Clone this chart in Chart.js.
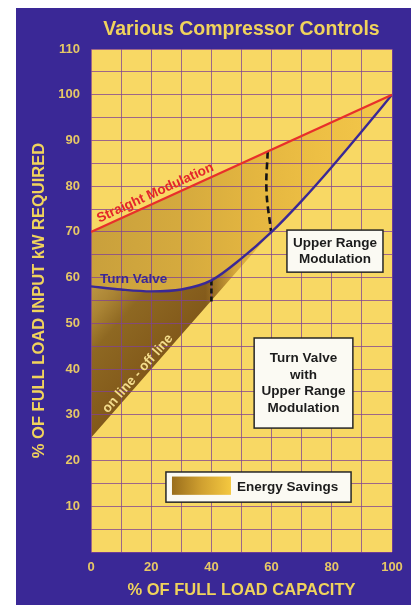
<!DOCTYPE html>
<html><head><meta charset="utf-8">
<script src="https://cdn.jsdelivr.net/npm/chart.js@4/dist/chart.umd.min.js"></script>
<style>
html,body{margin:0;padding:0;background:#fff;}
#wrap{position:absolute;left:16px;top:8px;width:395px;height:597px;background:#3a2896;}
canvas{display:block;}
</style></head><body>
<div id="wrap"><canvas id="c" width="395" height="597"></canvas></div>
<script>
// ---- data ----
const capacity = [0,10,20,30,40,50,60,70,80,90,100];
const turnValve = [58.1,57.4,57.0,57.4,59.4,64.2,70.0,76.8,84.2,92.0,100];
const straightModX = [0,100];
const straightModY = [70,100];
const onOffX = [0,100];
const onOffY = [25,100];
const switchLowX = [40,40];
const switchLowY = [59.4,54.6];
const switchHighX = [58.7,58.3,59.8];
const switchHighY = [87.6,79.0,70.2];
const xTickLabels = [0,20,40,60,80,100];
const yTickLabels = [10,20,30,40,50,60,70,80,90,100,110];

const FONT = "'Liberation Sans', Arial, Helvetica, sans-serif";
const YELLOW_TXT = '#f0d35c';
const zip = (xs, ys) => xs.map((v,i)=>({x:v, y:ys[i]}));

let tex = {key:null};
function textures(chart){
  const a = chart.chartArea;
  if (!a || !chart.scales.x || !chart.scales.y) return null;
  const key = [a.left,a.top,a.right,a.bottom].join(',');
  if (tex.key === key) return tex;
  const xs = chart.scales.x, ys = chart.scales.y, ctx = chart.ctx;
  const g = ctx.createLinearGradient(a.left,0,a.right,0);
  g.addColorStop(0,'#c9a03c'); g.addColorStop(0.3,'#d5aa3e'); g.addColorStop(0.55,'#e4b640');
  g.addColorStop(0.75,'#edbf44'); g.addColorStop(1,'#f3c74a');
  const off = document.createElement('canvas');
  off.width = chart.width; off.height = chart.height;
  const o = off.getContext('2d');
  const p0x = xs.getPixelForValue(onOffX[0]), p0y = ys.getPixelForValue(onOffY[0]);
  const p1x = xs.getPixelForValue(onOffX[1]), p1y = ys.getPixelForValue(onOffY[1]);
  let dx = p1x-p0x, dy = p1y-p0y; const L = Math.hypot(dx,dy); dx/=L; dy/=L;
  const nx = dy, ny = -dx, D = 100;
  const pg = o.createLinearGradient(p0x,p0y,p0x+nx*D,p0y+ny*D);
  pg.addColorStop(0,'#82591a'); pg.addColorStop(0.55,'#8e6822'); pg.addColorStop(0.78,'#aa8434'); pg.addColorStop(1,'#bc9642');
  o.fillStyle = pg; o.fillRect(0,0,off.width,off.height);
  const hg = o.createLinearGradient(xs.getPixelForValue(38),0,xs.getPixelForValue(62),0);
  hg.addColorStop(0,'rgba(240,192,70,0)'); hg.addColorStop(0.4,'rgba(240,192,70,0.75)'); hg.addColorStop(1,'rgba(242,198,76,1)');
  o.fillStyle = hg; o.fillRect(0,0,off.width,off.height);
  tex = {key, top:g, low: ctx.createPattern(off,'no-repeat')};
  return tex;
}

const plotBg = {
  id:'plotBg',
  beforeDraw(chart){
    const a = chart.chartArea, ctx = chart.ctx;
    ctx.save(); ctx.fillStyle = '#f8d864';
    ctx.fillRect(a.left, a.top, a.right-a.left, a.bottom-a.top); ctx.restore();
  }
};
try {
  const filler = Chart.registry.getPlugin('filler');
  Chart.unregister(filler);
  Chart.register(plotBg, filler);
} catch(e) { Chart.register(plotBg); }

function drawBox(ctx, X, Y, x0, y0, x1, y1, lines){
  const l = X(x0), t = Y(y0), r = X(x1), b = Y(y1);
  ctx.fillStyle = '#fbfaf3'; ctx.fillRect(l,t,r-l,b-t);
  ctx.strokeStyle = '#262626'; ctx.lineWidth = 1.5; ctx.strokeRect(l,t,r-l,b-t);
  ctx.fillStyle = '#1c1c1c'; ctx.font = 'bold 13.5px ' + FONT;
  ctx.textAlign = 'center'; ctx.textBaseline = 'middle';
  const lh = 16.5, cy = (t+b)/2, cx = (l+r)/2;
  lines.forEach((s,i)=> ctx.fillText(s, cx, cy + (i-(lines.length-1)/2)*lh));
}

const annot = {
  id:'annot',
  afterDraw(chart){
    const ctx = chart.ctx, xs = chart.scales.x, ys = chart.scales.y;
    const X = v=>xs.getPixelForValue(v), Y = v=>ys.getPixelForValue(v);
    ctx.save();
    // Straight Modulation label along red line
    let ang = Math.atan2(Y(straightModY[1])-Y(straightModY[0]), X(straightModX[1])-X(straightModX[0]));
    let ax = 22.6, ay = straightModY[0] + (straightModY[1]-straightModY[0])*ax/100;
    ctx.save(); ctx.translate(X(ax), Y(ay)); ctx.rotate(ang);
    ctx.font = 'bold 13.5px ' + FONT; ctx.fillStyle = '#e3262a';
    ctx.textAlign = 'center'; ctx.textBaseline = 'alphabetic';
    ctx.fillText('Straight Modulation', 0, -5); ctx.restore();
    // Turn Valve
    ctx.font = 'bold 13.5px ' + FONT; ctx.fillStyle = '#3a2896';
    ctx.textAlign = 'left'; ctx.textBaseline = 'middle';
    ctx.fillText('Turn Valve', X(3), Y(59.7));
    // on line - off line
    ang = Math.atan2(Y(onOffY[1])-Y(onOffY[0]), X(onOffX[1])-X(onOffX[0]));
    ax = 17.3; ay = onOffY[0] + (onOffY[1]-onOffY[0])*ax/100;
    ctx.save(); ctx.translate(X(ax), Y(ay)); ctx.rotate(ang);
    ctx.font = 'bold 13.5px ' + FONT; ctx.fillStyle = '#f3dc8c';
    ctx.textAlign = 'center'; ctx.textBaseline = 'middle';
    ctx.fillText('on line - off line', 0, -7); ctx.restore();
    // boxes
    drawBox(ctx, X, Y, 65.1, 70.4, 97.0, 61.2, ['Upper Range','Modulation']);
    drawBox(ctx, X, Y, 54.2, 46.8, 87.0, 27.1, ['Turn Valve','with','Upper Range','Modulation']);
    // legend box
    const l = X(24.9), t = Y(17.5), r = X(86.4), b = Y(10.9);
    ctx.fillStyle = '#fbfaf3'; ctx.fillRect(l,t,r-l,b-t);
    ctx.strokeStyle = '#262626'; ctx.lineWidth = 1.5; ctx.strokeRect(l,t,r-l,b-t);
    const sl = X(26.9), sr = X(46.5), st = Y(16.5), sb = Y(12.5);
    const sg = ctx.createLinearGradient(sl,0,sr,0);
    sg.addColorStop(0,'#9a6e1c'); sg.addColorStop(0.5,'#d0a030'); sg.addColorStop(1,'#f4c840');
    ctx.fillStyle = sg; ctx.fillRect(sl,st,sr-sl,sb-st);
    ctx.fillStyle = '#1c1c1c'; ctx.font = 'bold 13.5px ' + FONT;
    ctx.textAlign = 'left'; ctx.textBaseline = 'middle';
    ctx.fillText('Energy Savings', X(48.5), (t+b)/2);
    ctx.restore();
  }
};

const gridColor = 'rgba(128,66,148,0.75)';
new Chart(document.getElementById('c'), {
  type: 'line',
  data: {
    datasets: [
      { label:'Straight Modulation', data: zip(straightModX, straightModY),
        borderColor:'#e8302a', borderWidth:2.2, pointRadius:0, tension:0,
        fill: 1, backgroundColor: c => { const t = textures(c.chart); return t ? t.top : '#e0b040'; } },
      { label:'Turn Valve', data: zip(capacity, turnValve),
        borderColor:'#3a2896', borderWidth:2.4, pointRadius:0, cubicInterpolationMode:'monotone',
        fill: 2, backgroundColor: c => { const t = textures(c.chart); return t ? t.low : '#a88030'; } },
      { label:'on line - off line', data: zip(onOffX, onOffY),
        borderWidth:0, borderColor:'rgba(0,0,0,0)', pointRadius:0, fill:false },
      { label:'switch low', data: zip(switchLowX, switchLowY),
        borderColor:'#141414', borderWidth:2.6, borderDash:[5,3], pointRadius:0, fill:false },
      { label:'switch high', data: zip(switchHighX, switchHighY),
        borderColor:'#141414', borderWidth:2.6, borderDash:[7,4], pointRadius:0, tension:0.4, fill:false }
    ]
  },
  options: {
    responsive:false, animation:false, events:[],
    layout:{ padding:{left:0, top:0, right:19, bottom:0} },
    plugins:{
      legend:{display:false}, tooltip:{enabled:false},
      filler:{drawTime:'beforeDraw'},
      title:{display:true, fullSize:false, text:'Various Compressor Controls', color:YELLOW_TXT,
        font:{family:FONT, size:19.5, weight:'bold'}, padding:{top:10, bottom:7.6}}
    },
    scales:{
      x:{ type:'linear', min:0, max:100,
        ticks:{stepSize:10, autoSkip:false, maxRotation:0, padding:8, color:'#e6c866',
          font:{family:FONT, size:13, weight:'bold'},
          callback: v => xTickLabels.includes(v) ? String(v) : ''},
        grid:{color:gridColor, lineWidth:1, drawTicks:false}, border:{display:false},
        title:{display:true, text:'% OF FULL LOAD CAPACITY', color:YELLOW_TXT,
          font:{family:FONT, size:16.5, weight:'bold'}, padding:{top:0, bottom:5}},
        afterFit: s => { s.height = 53; } },
      y:{ type:'linear', min:0, max:110,
        ticks:{stepSize:5, autoSkip:false, padding:11, color:'#e6c866',
          font:{family:FONT, size:13, weight:'bold'},
          callback: v => yTickLabels.includes(v) ? String(v) : ''},
        grid:{color:gridColor, lineWidth:1, drawTicks:false}, border:{display:false},
        title:{display:true, text:'% OF FULL LOAD INPUT kW REQUIRED', color:YELLOW_TXT,
          font:{family:FONT, size:16.5, weight:'bold'}, padding:{top:14, bottom:0}},
        afterFit: s => { s.width = 75; } }
    }
  },
  plugins:[annot]
});
</script>
</body></html>
